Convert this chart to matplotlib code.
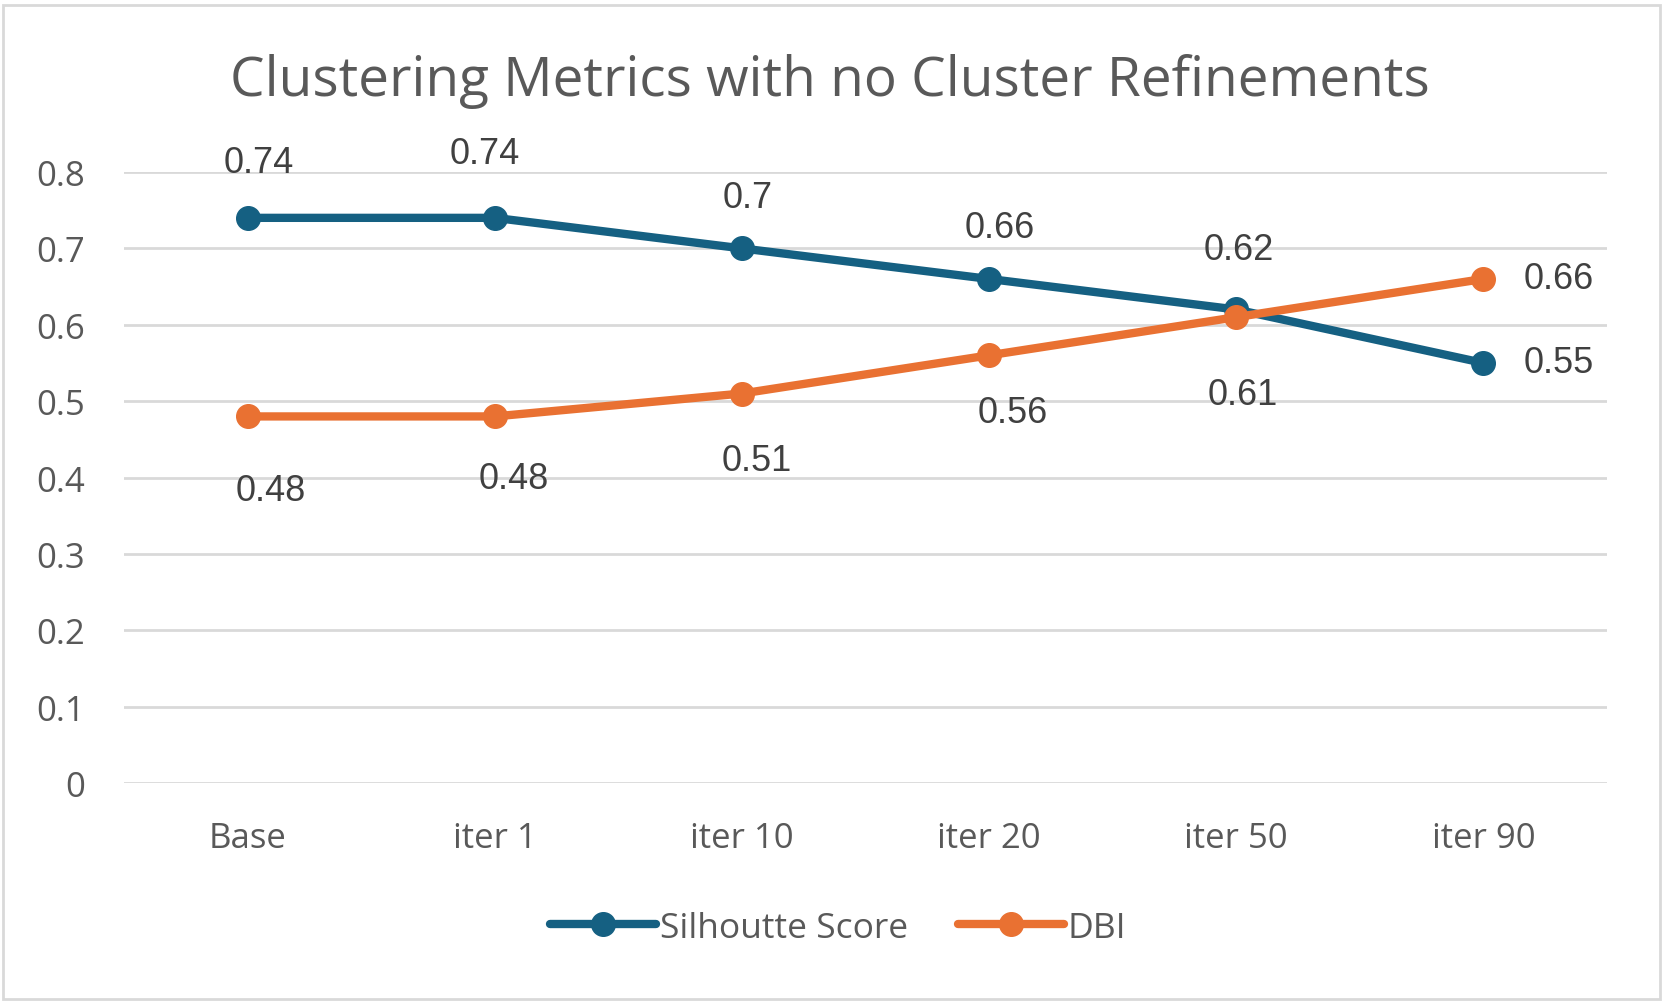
import matplotlib
matplotlib.use("Agg")
import matplotlib.pyplot as plt
from matplotlib.patches import Rectangle

categories = ["Base", "iter 1", "iter 10", "iter 20", "iter 50", "iter 90"]
silhouette = [0.74, 0.74, 0.70, 0.66, 0.62, 0.55]
dbi = [0.48, 0.48, 0.51, 0.56, 0.61, 0.66]
sil_labels = ["0.74", "0.74", "0.7", "0.66", "0.62", "0.55"]
dbi_labels = ["0.48", "0.48", "0.51", "0.56", "0.61", "0.66"]

# label offsets in points (dx, dy)
sil_off = [(8, 40), (-7, 46), (4, 37), (8, 37), (2, 43), (54, 0)]
dbi_off = [(17, -53), (14, -45), (11, -48), (17, -41), (5, -56), (54, 0)]

blue = "#156082"
orange = "#E97132"
txt = "#595959"

plt.rcParams["font.family"] = ["Open Sans", "DejaVu Sans"]

fig = plt.figure(figsize=(16.63, 10.03), dpi=100)
fig.patches.append(Rectangle((3 / 1663, 3 / 1003), 1657 / 1663, 994 / 1003,
                             transform=fig.transFigure, fill=False,
                             edgecolor="#D9D9D9", linewidth=2))
ax = fig.add_axes([0.0746, 0.2183, 0.8917, 0.6092])

x = list(range(len(categories)))
ax.plot(x, silhouette, color=blue, lw=6, marker="o", ms=17,
        label="Silhoutte Score", solid_capstyle="round", zorder=3)
ax.plot(x, dbi, color=orange, lw=6, marker="o", ms=17,
        label="DBI", solid_capstyle="round", zorder=4)

for i in x:
    ax.annotate(sil_labels[i], (i, silhouette[i]), xytext=sil_off[i],
                textcoords="offset points", ha="center", va="center",
                fontsize=26, color="#404040", family="Liberation Sans")
    ax.annotate(dbi_labels[i], (i, dbi[i]), xytext=dbi_off[i],
                textcoords="offset points", ha="center", va="center",
                fontsize=26, color="#404040", family="Liberation Sans")

ax.set_xlim(-0.5, 5.5)
ax.set_ylim(0, 0.8)
ax.set_yticks([0, 0.1, 0.2, 0.3, 0.4, 0.5, 0.6, 0.7, 0.8])
ax.set_yticklabels(["0", "0.1", "0.2", "0.3", "0.4", "0.5", "0.6", "0.7", "0.8"])
ax.set_xticks(x)
ax.set_xticklabels(categories)
ax.tick_params(axis="both", length=0, labelsize=25, labelcolor=txt)
ax.tick_params(axis="y", pad=28)
ax.tick_params(axis="x", pad=27)
ax.grid(axis="y", color="#D9D9D9", lw=2)
ax.set_axisbelow(True)
for s in ax.spines.values():
    s.set_visible(False)

fig.text(0.499, 0.919, "Clustering Metrics with no Cluster Refinements",
         ha="center", va="center", fontsize=39.5, color=txt)

leg = fig.legend(loc="center", bbox_to_anchor=(0.504, 0.074), ncol=2,
                 frameon=False, fontsize=25.5, handlelength=3.0,
                 handletextpad=0.1, columnspacing=1.4, labelcolor=txt)

fig.savefig("out.png", dpi=100)
